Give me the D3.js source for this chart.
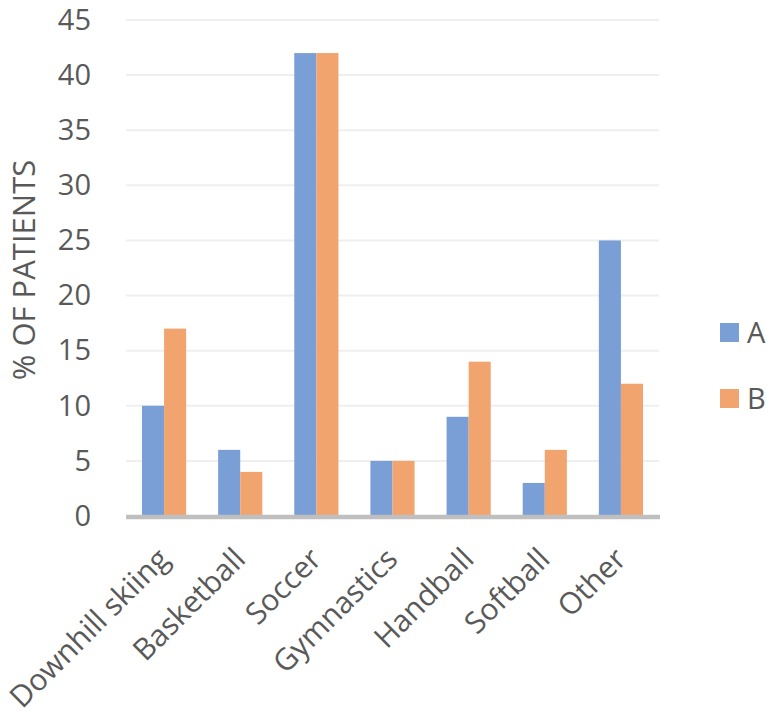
<!DOCTYPE html>
<html>
<head>
<meta charset="utf-8">
<script src="https://cdn.jsdelivr.net/npm/d3@7"></script>
<style>
  body { margin: 0; background: #fff; }
  text { font-family: "Open Sans", sans-serif; fill: #595959; }
</style>
</head>
<body>
<script>
// values
var sports = ["Downhill skiing", "Basketball", "Soccer", "Gymnastics", "Handball", "Softball", "Other"];
var seriesNames = ["A", "B"];
var valuesA = [10, 6, 42, 5, 9, 3, 25];
var valuesB = [17, 4, 42, 5, 14, 6, 12];
var yTicks = [0, 5, 10, 15, 20, 25, 30, 35, 40, 45];
var colors = ["#7a9fd6", "#f2a46e"];

var width = 769, height = 720;
var margin = {top: 20, right: 110, bottom: 204, left: 126};
var plotW = width - margin.left - margin.right,
    plotH = height - margin.top - margin.bottom;

var svg = d3.select("body").append("svg")
    .attr("width", width)
    .attr("height", height);

var g = svg.append("g")
    .attr("transform", "translate(" + margin.left + "," + margin.top + ")");

var x0 = d3.scaleBand()
    .domain(sports)
    .range([0, plotW])
    .paddingInner(0.42)
    .paddingOuter(0.21);

var x1 = d3.scaleBand()
    .domain(seriesNames)
    .range([0, x0.bandwidth()]);

var y = d3.scaleLinear()
    .domain([0, 45])
    .range([plotH, 0]);

// gridlines
g.append("g")
    .selectAll("line")
    .data(yTicks.filter(function(d) { return d > 0; }))
    .join("line")
    .attr("x1", 0)
    .attr("x2", plotW)
    .attr("y1", function(d) { return y(d); })
    .attr("y2", function(d) { return y(d); })
    .attr("stroke", "#efefef")
    .attr("stroke-width", 2);

// y tick labels
var yAxis = d3.axisLeft(y).tickValues(yTicks).tickSize(0).tickPadding(35);
g.append("g")
    .call(yAxis)
    .call(function(s) { s.select(".domain").remove(); })
    .selectAll("text")
    .style("font-size", "29px")
    .attr("fill", "#595959");

// bars
var rows = sports.map(function(s, i) {
  return {sport: s, vals: [valuesA[i], valuesB[i]]};
});

g.append("g")
    .selectAll("g")
    .data(rows)
    .join("g")
    .attr("transform", function(d) { return "translate(" + x0(d.sport) + ",0)"; })
    .selectAll("rect")
    .data(function(d) { return d.vals.map(function(v, k) { return {key: seriesNames[k], v: v, k: k}; }); })
    .join("rect")
    .attr("x", function(d) { return x1(d.key); })
    .attr("width", x1.bandwidth())
    .attr("y", function(d) { return y(d.v); })
    .attr("height", function(d) { return y(0) - y(d.v); })
    .attr("fill", function(d) { return colors[d.k]; });

// zero axis line
g.append("line")
    .attr("x1", 0)
    .attr("x2", plotW + 1)
    .attr("y1", y(0) + 1)
    .attr("y2", y(0) + 1)
    .attr("stroke", "#bfbfbf")
    .attr("stroke-width", 4.5);

// x labels, rotated
g.append("g")
    .selectAll("text")
    .data(sports)
    .join("text")
    .attr("transform", function(d) {
      return "translate(" + (x0(d) + x0.bandwidth() / 2 - 9) + "," + (plotH + 29) + ") rotate(-45)";
    })
    .attr("text-anchor", "end")
    .attr("dy", "0.75em")
    .style("font-size", "30px")
    .text(function(d) { return d; });

// y title
svg.append("text")
    .attr("transform", "translate(35," + (margin.top + 250) + ") rotate(-90)")
    .attr("text-anchor", "middle")
    .style("font-size", "31px")
    .text("% OF PATIENTS");

// legend
var legend = svg.append("g")
    .selectAll("g")
    .data(seriesNames)
    .join("g")
    .attr("transform", function(d, i) { return "translate(720," + (323 + i * 66) + ")"; });

legend.append("rect")
    .attr("width", 19)
    .attr("height", 19)
    .attr("fill", function(d, i) { return colors[i]; });

legend.append("text")
    .attr("x", 27)
    .attr("y", 20)
    .style("font-size", "29px")
    .text(function(d) { return d; });
</script>
</body>
</html>
